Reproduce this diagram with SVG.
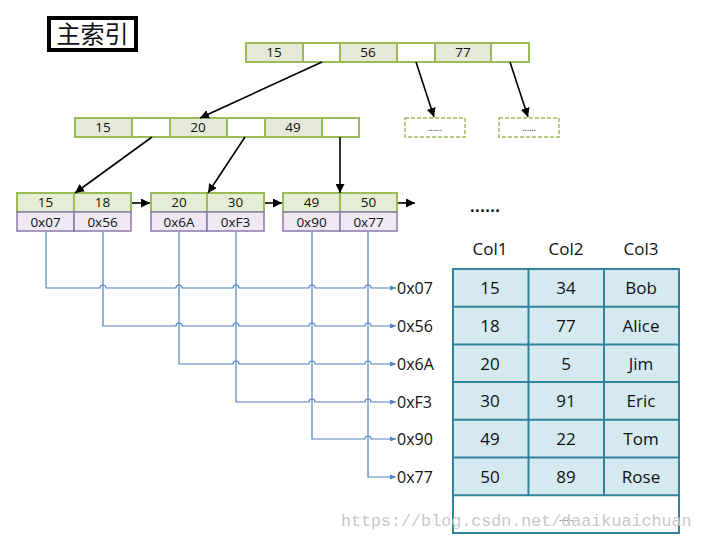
<svg xmlns="http://www.w3.org/2000/svg" width="703" height="539" viewBox="0 0 703 539">
<style>
  text { font-family: "Open Sans", "Noto Sans", "DejaVu Sans", sans-serif; fill: #111; }
  .k { fill: #e6e9d8; stroke: #9bbb59; stroke-width: 2; }
  .p { fill: #ffffff; stroke: #9bbb59; stroke-width: 2; }
  .lk { fill: #e5eed5; stroke: #9bbb59; stroke-width: 2; }
  .la { fill: #eee9f3; stroke: #8c78aa; stroke-width: 1.5; }
  .dash { fill: #fff; stroke: #9bbb59; stroke-width: 1.5; stroke-dasharray: 4 2; }
  .t13 { font-size: 13.5px; text-anchor: middle; }
  .t16 { font-size: 16px; }
  .tc { font-size: 17px; text-anchor: middle; }
  .arr { stroke: #000; stroke-width: 1.6; fill: none; marker-end: url(#ah); }
  .blue { stroke: #4f81bd; stroke-width: 1.2; fill: none; }
  .bluea { marker-end: url(#bh); }
  .tb { stroke: #31849b; stroke-width: 2; fill: none; }
</style>
<defs>
  <marker id="ah" viewBox="0 0 10 10" refX="10" refY="5" markerWidth="9" markerHeight="9" orient="auto" markerUnits="userSpaceOnUse">
    <path d="M0,0 L10,5 L0,10 z" fill="#000"/>
  </marker>
  <marker id="bh" viewBox="0 0 10 10" refX="10" refY="5" markerWidth="6" markerHeight="6" orient="auto" markerUnits="userSpaceOnUse">
    <path d="M0,1 L10,5 L0,9 z" fill="#4f81bd"/>
  </marker>
</defs>
<rect width="703" height="539" fill="#fff"/>

<g id="title">
  <rect x="49" y="18" width="87" height="32" fill="#fff" stroke="#000" stroke-width="4"/>
  <text x="92.5" y="43" font-size="24" text-anchor="middle" style="font-family:'Noto Sans CJK SC','Noto Sans CJK JP',sans-serif">主索引</text>
</g>

<g id="root">
  <rect class="k" x="246" y="43" width="57" height="19"/>
  <rect class="p" x="303" y="43" width="37" height="19"/>
  <rect class="k" x="340" y="43" width="57" height="19"/>
  <rect class="p" x="397" y="43" width="38" height="19"/>
  <rect class="k" x="435" y="43" width="56" height="19"/>
  <rect class="p" x="491" y="43" width="38" height="19"/>
  <text class="t13" x="274" y="57">15</text>
  <text class="t13" x="368" y="57">56</text>
  <text class="t13" x="463" y="57">77</text>
</g>

<g id="mid">
  <rect class="k" x="75" y="118" width="57" height="19"/>
  <rect class="p" x="132" y="118" width="38" height="19"/>
  <rect class="k" x="170" y="118" width="57" height="19"/>
  <rect class="p" x="227" y="118" width="38" height="19"/>
  <rect class="k" x="265" y="118" width="57" height="19"/>
  <rect class="p" x="322" y="118" width="37" height="19"/>
  <text class="t13" x="103" y="132">15</text>
  <text class="t13" x="198" y="132">20</text>
  <text class="t13" x="293" y="132">49</text>
</g>

<g id="more1">
  <rect class="dash" x="405" y="118" width="60" height="19"/>
  <text x="435" y="131" font-size="9" text-anchor="middle">......</text>
</g>
<g id="more2">
  <rect class="dash" x="499" y="118" width="60" height="19"/>
  <text x="529" y="131" font-size="9" text-anchor="middle">......</text>
</g>

<g id="leaf1">
  <rect class="lk" x="17" y="193" width="57" height="19"/>
  <rect class="lk" x="74" y="193" width="57" height="19"/>
  <rect class="la" x="17" y="212" width="57" height="19"/>
  <rect class="la" x="74" y="212" width="57" height="19"/>
  <text class="t13" x="45.5" y="207">15</text>
  <text class="t13" x="102.5" y="207">18</text>
  <text class="t13" x="45.5" y="226.5">0x07</text>
  <text class="t13" x="102.5" y="226.5">0x56</text>
</g>
<g id="leaf2">
  <rect class="lk" x="151" y="193" width="56" height="19"/>
  <rect class="lk" x="207" y="193" width="57" height="19"/>
  <rect class="la" x="151" y="212" width="56" height="19"/>
  <rect class="la" x="207" y="212" width="57" height="19"/>
  <text class="t13" x="179" y="207">20</text>
  <text class="t13" x="235.5" y="207">30</text>
  <text class="t13" x="179" y="226.5">0x6A</text>
  <text class="t13" x="235.5" y="226.5">0xF3</text>
</g>
<g id="leaf3">
  <rect class="lk" x="283" y="193" width="57" height="19"/>
  <rect class="lk" x="340" y="193" width="57" height="19"/>
  <rect class="la" x="283" y="212" width="57" height="19"/>
  <rect class="la" x="340" y="212" width="57" height="19"/>
  <text class="t13" x="311.5" y="207">49</text>
  <text class="t13" x="368.5" y="207">50</text>
  <text class="t13" x="311.5" y="226.5">0x90</text>
  <text class="t13" x="368.5" y="226.5">0x77</text>
</g>

<g id="ellipsis">
  <text x="470" y="212" font-size="16" font-weight="bold" letter-spacing="0.5">......</text>
</g>

<g id="connectors">
  <line class="arr" x1="322" y1="62" x2="200" y2="118"/>
  <line class="arr" x1="416" y1="62" x2="434" y2="117"/>
  <line class="arr" x1="510" y1="62" x2="528" y2="117"/>
  <line class="arr" x1="152" y1="137" x2="75" y2="193"/>
  <line class="arr" x1="245" y1="137" x2="208" y2="193"/>
  <line class="arr" x1="340" y1="137" x2="340" y2="193"/>
  <line class="arr" x1="132" y1="203" x2="150" y2="203"/>
  <line class="arr" x1="265" y1="203" x2="282" y2="203"/>
  <line class="arr" x1="398" y1="203" x2="415" y2="203"/>

  <path class="blue bluea" d="M46,232 V288 H100 A3,3 0 0 1 106,288 H176 A3,3 0 0 1 182,288 H233 A3,3 0 0 1 239,288 H309 A3,3 0 0 1 315,288 H365 A3,3 0 0 1 371,288 H396"/>
  <path class="blue bluea" d="M103,232 V326 H176 A3,3 0 0 1 182,326 H233 A3,3 0 0 1 239,326 H309 A3,3 0 0 1 315,326 H365 A3,3 0 0 1 371,326 H396"/>
  <path class="blue bluea" d="M179,232 V364 H233 A3,3 0 0 1 239,364 H309 A3,3 0 0 1 315,364 H365 A3,3 0 0 1 371,364 H396"/>
  <path class="blue bluea" d="M236,232 V402 H309 A3,3 0 0 1 315,402 H365 A3,3 0 0 1 371,402 H396"/>
  <path class="blue bluea" d="M312,232 V439 H365 A3,3 0 0 1 371,439 H396"/>
  <path class="blue bluea" d="M368,232 V477 H396"/>
</g>

<g id="addresses">
  <text class="t16" x="397" y="294">0x07</text>
  <text class="t16" x="397" y="332">0x56</text>
  <text class="t16" x="397" y="370">0x6A</text>
  <text class="t16" x="397" y="408">0xF3</text>
  <text class="t16" x="397" y="445">0x90</text>
  <text class="t16" x="397" y="483">0x77</text>
</g>

<g id="table">
  <text class="tc" x="490" y="255">Col1</text>
  <text class="tc" x="566" y="255">Col2</text>
  <text class="tc" x="641" y="255">Col3</text>
  <rect x="453" y="269" width="226" height="226.2" fill="#d4e9f0"/>
  <rect x="453" y="495.2" width="226" height="37.8" fill="#fff"/>
  <rect class="tb" x="453" y="269" width="226" height="264"/>
  <path class="tb" d="M453,306.7 H679 M453,344.4 H679 M453,382.1 H679 M453,419.8 H679 M453,457.5 H679 M453,495.2 H679 M528.5,269 V495.2 M604,269 V495.2"/>
  <text class="tc" x="490" y="294">15</text>
  <text class="tc" x="566" y="294">34</text>
  <text class="tc" x="641" y="294">Bob</text>
  <text class="tc" x="490" y="332">18</text>
  <text class="tc" x="566" y="332">77</text>
  <text class="tc" x="641" y="332">Alice</text>
  <text class="tc" x="490" y="369.5">20</text>
  <text class="tc" x="566" y="369.5">5</text>
  <text class="tc" x="641" y="369.5">Jim</text>
  <text class="tc" x="490" y="407">30</text>
  <text class="tc" x="566" y="407">91</text>
  <text class="tc" x="641" y="407">Eric</text>
  <text class="tc" x="490" y="445">49</text>
  <text class="tc" x="566" y="445">22</text>
  <text class="tc" x="641" y="445">Tom</text>
  <text class="tc" x="490" y="482.5">50</text>
  <text class="tc" x="566" y="482.5">89</text>
  <text class="tc" x="641" y="482.5">Rose</text>
  <text x="566" y="521" font-size="9" text-anchor="middle">......</text>
</g>

<g id="watermark">
  <text x="341" y="526" font-size="16.7" style="font-family:'Liberation Mono','DejaVu Sans Mono',monospace;fill:#c8c8c8">https://blog.csdn.net/daaikuaichuan</text>
</g>
</svg>
